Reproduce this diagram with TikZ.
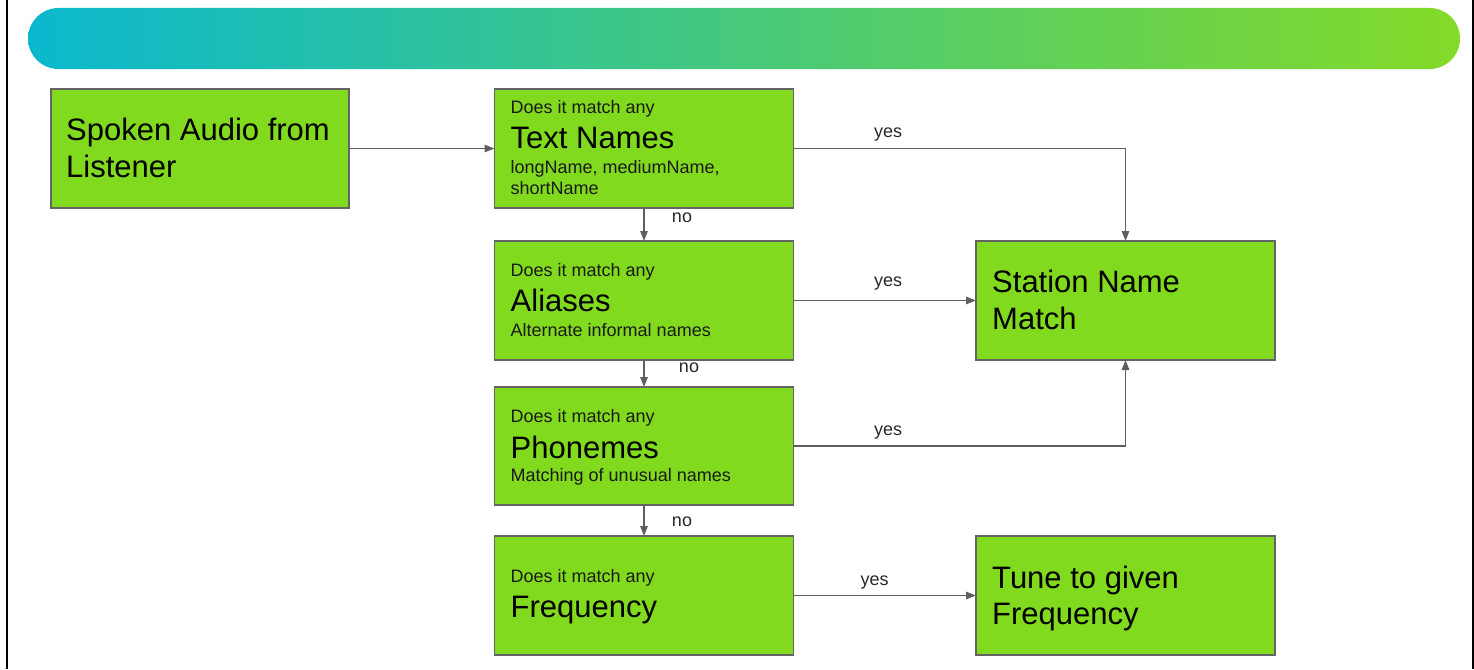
\documentclass[tikz,border=0pt]{standalone}
\usepackage{fontspec}
\setmainfont{Liberation Sans}
\usetikzlibrary{arrows.meta,calc}

\definecolor{boxgreen}{RGB}{129,218,30}
\definecolor{boxedge}{RGB}{100,100,100}
\definecolor{linkgray}{RGB}{95,95,95}
\definecolor{barleft}{RGB}{10,184,206}
\definecolor{barright}{RGB}{132,218,40}
\definecolor{labelgray}{RGB}{40,40,40}

\tikzset{
  stepbox/.style={draw=boxedge, line width=1.4pt, fill=boxgreen,
    minimum width=299pt, minimum height=119pt, inner sep=0pt, outer sep=0pt},
  bigtxt/.style={anchor=base west, inner sep=0pt,
    font=\fontsize{31}{37}\selectfont, text=black},
  smalltxt/.style={anchor=base west, inner sep=0pt,
    font=\fontsize{18}{21.6}\selectfont, text=black!90},
  link/.style={draw=linkgray, line width=1.4pt, -{Triangle[length=10pt,width=7.5pt]}},
  answer/.style={anchor=base, inner sep=0pt,
    font=\fontsize{18}{21.6}\selectfont, text=labelgray},
  frameline/.style={draw=black, line width=2pt},
}

\begin{document}
\begin{tikzpicture}[x=1pt,y=-1pt]
\useasboundingbox (0,0) rectangle (1474,669);

% side rules of the slide frame
\coordinate (fl1) at (7,0);
\coordinate (fl2) at (7,669);
\coordinate (fr1) at (1472.7,0);
\coordinate (fr2) at (1472.7,669);
\draw[frameline] (fl1) -- (fl2);
\draw[frameline] (fr1) -- (fr2);

% title band
\shade[left color=barleft, right color=barright, rounded corners=30.5pt]
  (28,8) rectangle (1460,69);

% boxes
\node[stepbox, minimum width=298pt] (spoken) at (200,148.5) {};
\node[stepbox] (textnames) at (644,148.5) {};
\node[stepbox] (aliases)   at (644,300.5) {};
\node[stepbox, minimum height=118pt] (phonemes) at (644,446) {};
\node[stepbox] (frequency) at (644,595.5) {};
\node[stepbox] (station)   at (1125.5,300.5) {};
\node[stepbox] (tune)      at (1125.5,595.5) {};

% box texts
\node[bigtxt] (sp1) at ($(spoken.north west)+(15,51.5)$) {Spoken Audio from};
\node[bigtxt] (sp2) at ($(spoken.north west)+(15,88.5)$) {Listener};

\node[smalltxt] (tn1) at ($(textnames.north west)+(16,24.5)$) {Does it match any};
\node[bigtxt]   (tn2) at ($(textnames.north west)+(16,59)$) {Text Names};
\node[smalltxt] (tn3) at ($(textnames.north west)+(16,84)$) {longName, mediumName,};
\node[smalltxt] (tn4) at ($(textnames.north west)+(16,105.5)$) {shortName};

\node[smalltxt] (al1) at ($(aliases.north west)+(16,35.5)$) {Does it match any};
\node[bigtxt]   (al2) at ($(aliases.north west)+(16,70.5)$) {Aliases};
\node[smalltxt] (al3) at ($(aliases.north west)+(16,95)$) {Alternate informal names};

\node[smalltxt] (ph1) at ($(phonemes.north west)+(16,35.7)$) {Does it match any};
\node[bigtxt]   (ph2) at ($(phonemes.north west)+(16,71)$) {Phonemes};
\node[smalltxt] (ph3) at ($(phonemes.north west)+(16,94.7)$) {Matching of unusual names};

\node[smalltxt] (fr1t) at ($(frequency.north west)+(16,46.7)$) {Does it match any};
\node[bigtxt]   (fr2t) at ($(frequency.north west)+(16,81.3)$) {Frequency};

\node[bigtxt] (st1) at ($(station.north west)+(16,51.5)$) {Station Name};
\node[bigtxt] (st2) at ($(station.north west)+(16,88.5)$) {Match};

\node[bigtxt] (tu1) at ($(tune.north west)+(16,52)$) {Tune to given};
\node[bigtxt] (tu2) at ($(tune.north west)+(16,88.5)$) {Frequency};

% connectors
\draw[link] (spoken.east) -- (textnames.west);
\draw[link] (textnames.east) -| (station.north);
\draw[link] (textnames.south) -- (aliases.north);
\draw[link] (aliases.east) -- (station.west);
\draw[link] (aliases.south) -- (phonemes.north);
\draw[link] (phonemes.east) -| (station.south);
\draw[link] (phonemes.south) -- (frequency.north);
\draw[link] (frequency.east) -- (tune.west);

% answer labels
\node[answer] (yes1) at (888,137) {yes};
\node[answer] (yes2) at (888,286.5) {yes};
\node[answer] (yes3) at (888,435.5) {yes};
\node[answer] (yes4) at (874.5,585.5) {yes};
\node[answer] (no1) at (682,222) {no};
\node[answer] (no2) at (689,372.5) {no};
\node[answer] (no3) at (682,526) {no};
\end{tikzpicture}
\end{document}
